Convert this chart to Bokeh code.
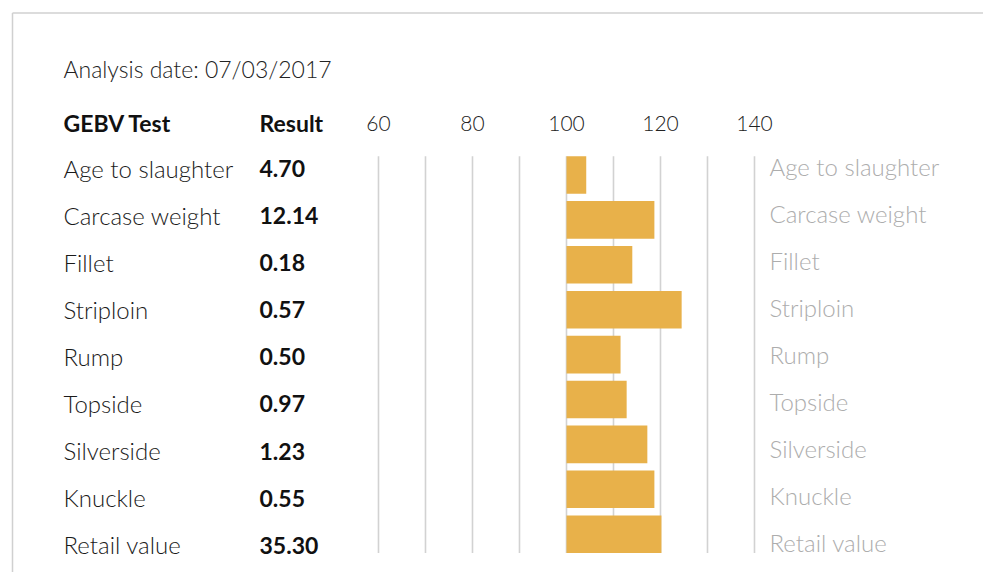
from bokeh.plotting import figure
from bokeh.models import Range1d, ColumnDataSource
from bokeh.core.properties import value
from bokeh.embed import file_html
from bokeh.resources import INLINE

# ---------------- data ----------------
tests = ["Age to slaughter", "Carcase weight", "Fillet", "Striploin", "Rump",
         "Topside", "Silverside", "Knuckle", "Retail value"]
results = ["4.70", "12.14", "0.18", "0.57", "0.50", "0.97", "1.23", "0.55", "35.30"]
index_values = [104.2, 118.7, 114.0, 124.5, 111.5, 112.8, 117.2, 118.7, 120.2]
baseline_value = 100
tick_values = [60, 80, 100, 120, 140]
grid_values = [60, 70, 80, 90, 100, 110, 120, 130, 140]
analysis_date = "07/03/2017"

# ---------------- layout ----------------
W, H = 983, 572
ORIGIN = 0
SCALE_X = 4.7          # px per index unit
X_REF_VAL, X_REF_PX = 100, 566
ROW0, PITCH = 174.5, 44.9
BAR_H = 0.837

x_start = X_REF_VAL - (X_REF_PX - ORIGIN) / SCALE_X
x_end = x_start + W / SCALE_X
y_top = (ORIGIN - ROW0) / PITCH
y_bot = (ORIGIN + H - ROW0) / PITCH

def px_x(px):
    return x_start + (px - ORIGIN) / SCALE_X

def px_y(py):
    return (py - ROW0) / PITCH

LIGHT = value("'Lato Light', Lato")
BOLD = value("Lato")

p = figure(width=W, height=H, output_backend="svg", toolbar_location=None,
           x_range=Range1d(x_start, x_end), y_range=Range1d(y_bot, y_top),
           min_border=0, x_axis_type=None, y_axis_type=None)
p.grid.visible = False
p.outline_line_color = None
p.background_fill_color = "white"

n = len(tests)
idx = list(range(n))

# border (top + left)
p.segment(x0=[px_x(12), px_x(12)], y0=[px_y(12.5), px_y(12.5)],
          x1=[x_end, px_x(12)], y1=[px_y(12.5), y_bot],
          line_color="#d0d0d0", line_width=1.5)

# grid lines
p.segment(x0=grid_values, x1=grid_values,
          y0=[-BAR_H / 2] * len(grid_values), y1=[n - 1 + BAR_H / 2] * len(grid_values),
          line_color="#d2d2d2", line_width=1.6)

# bars
src = ColumnDataSource(dict(y=idx, right=index_values, left=[baseline_value] * n))
p.hbar(y="y", left="left", right="right", height=BAR_H, source=src,
       fill_color="#E8B14A", line_color=None)

# text rows
TB0, TP = 167.7, 47.05
text_y = [px_y(TB0 + TP * i) for i in idx]
right_y = [px_y(165.7 + TP * i) for i in idx]

p.text(x=[px_x(63)] * n, y=text_y, text=tests, text_font=LIGHT, text_font_size="24px",
       text_color="#1a1a1a", text_baseline="alphabetic", text_align="left")
p.text(x=[px_x(259)] * n, y=[v + 0.5 / PITCH for v in text_y], text=results,
       text_font=BOLD, text_font_size="23px",
       text_font_style="bold", text_color="#111111", text_baseline="alphabetic",
       text_align="left")
p.text(x=[px_x(769)] * n, y=right_y, text=tests, text_font=LIGHT, text_font_size="24px",
       text_color="#adadad", text_baseline="alphabetic", text_align="left")

# header
p.text(x=[px_x(63)], y=[px_y(68.8)], text=["Analysis date: " + analysis_date],
       text_font=LIGHT, text_font_size="23px", text_color="#222222",
       text_baseline="alphabetic")
p.text(x=[px_x(63), px_x(259)], y=[px_y(122.4)] * 2, text=["GEBV Test", "Result"],
       text_font=BOLD, text_font_size="23px", text_font_style="bold",
       text_color="#111111", text_baseline="alphabetic")
p.text(x=tick_values, y=[px_y(122.7)] * len(tick_values),
       text=[str(t) for t in tick_values], text_font=LIGHT, text_font_size="21px",
       text_color="#222222", text_baseline="alphabetic", text_align="center")

open("out.html", "w").write(file_html(p, INLINE))
